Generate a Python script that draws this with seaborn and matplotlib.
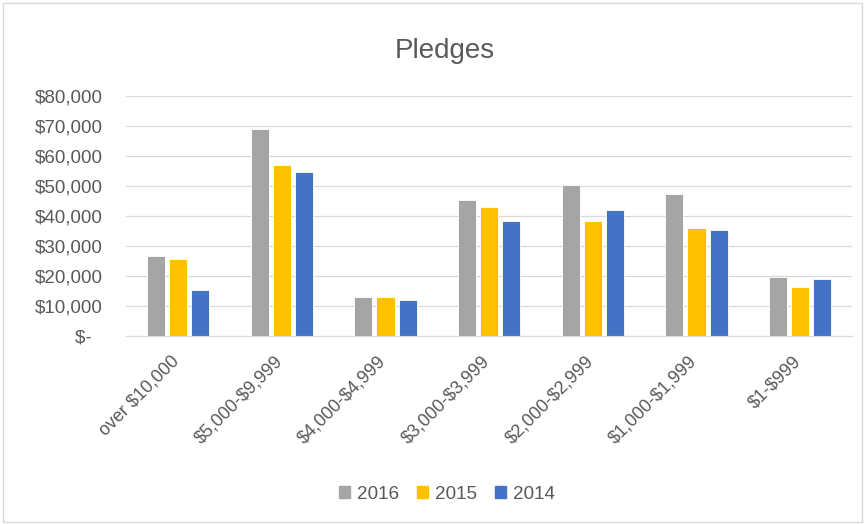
import numpy as np
import pandas as pd
import matplotlib
matplotlib.use("Agg")
import matplotlib.pyplot as plt
import matplotlib.ticker as mticker
import matplotlib.transforms as mtransforms
from matplotlib.patches import Rectangle
import seaborn as sns

categories = ['over $10,000', '$5,000-$9,999', '$4,000-$4,999', '$3,000-$3,999',
              '$2,000-$2,999', '$1,000-$1,999', '$1-$999']
years = ['2016', '2015', '2014']
pledges_2016 = [26700, 69100, 12800, 45400, 50200, 47200, 19600]
pledges_2015 = [25600, 57000, 12800, 43000, 38200, 35800, 16400]
pledges_2014 = [15300, 54700, 11800, 38200, 41900, 35200, 18900]
colors = ['#A5A5A5', '#FFC000', '#4472C4']

df = pd.DataFrame({
    'band': categories * 3,
    'year': np.repeat(years, len(categories)),
    'amount': pledges_2016 + pledges_2015 + pledges_2014,
})

sns.set_style('white')
plt.rcParams['font.family'] = ['Liberation Sans', 'DejaVu Sans']
plt.rcParams['text.parse_math'] = False

fig = plt.figure(figsize=(8.65, 5.24), dpi=100)
ax = fig.add_axes([0.146, 0.359, 0.839, 0.458])

sns.barplot(data=df, x='band', y='amount', hue='year', palette=colors,
            saturation=1, width=0.64, gap=0.18, edgecolor='white', linewidth=0.6,
            legend=False, ax=ax)

ax.set_ylim(0, 80000)
ax.set_xlim(-0.5, len(categories) - 0.5)
ax.yaxis.set_major_locator(mticker.MultipleLocator(10000))
ax.yaxis.set_major_formatter(mticker.FuncFormatter(
    lambda v, p: '$-  ' if v == 0 else f'${v:,.0f}'))
ax.grid(axis='y', color='#D9D9D9', linewidth=0.9)
ax.set_axisbelow(True)
for s in ['top', 'right', 'left']:
    ax.spines[s].set_visible(False)
ax.spines['bottom'].set_color('#D9D9D9')
ax.tick_params(axis='y', length=0, labelsize=13.5, colors='#595959', pad=17)
ax.tick_params(axis='x', length=0, labelsize=13, colors='#595959', pad=12)
ax.set_xlabel('')
ax.set_ylabel('')
shift = mtransforms.ScaledTranslation(-0.08, 0, fig.dpi_scale_trans)
for lbl in ax.get_xticklabels():
    lbl.set_rotation(45)
    lbl.set_ha('right')
    lbl.set_rotation_mode('anchor')
    lbl.set_transform(lbl.get_transform() + shift)

fig.text(0.514, 0.889, 'Pledges', ha='center', va='baseline', fontsize=20, color='#595959')

handles = [Rectangle((0, 0), 1, 1, color=c) for c in colors]
fig.legend(handles, years, loc='center', bbox_to_anchor=(0.517, 0.057), ncol=3,
           frameon=False, handlelength=0.58, handleheight=0.58, handletextpad=0.37,
           columnspacing=0.95, fontsize=13.6, labelcolor='#595959')

fig.patches.append(Rectangle((0.004, 0.004), 0.992, 0.99, transform=fig.transFigure,
                             fill=False, edgecolor='#D9D9D9', linewidth=1))

fig.savefig('out.png', dpi=100, facecolor='white')
